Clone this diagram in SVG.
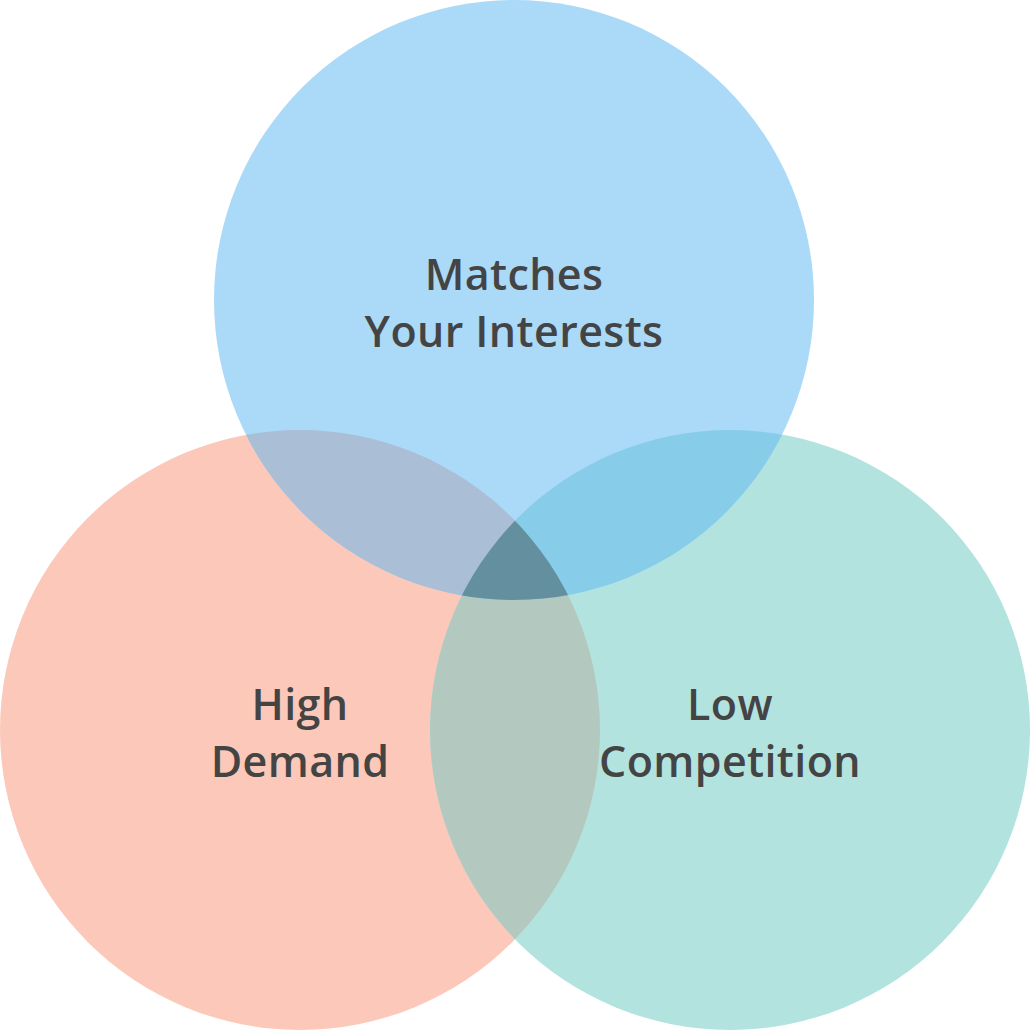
<svg xmlns="http://www.w3.org/2000/svg" width="1030" height="1030" viewBox="0 0 1030 1030">
<style>
.lbl{font-family:"Open Sans","Liberation Sans",sans-serif;font-weight:600;font-size:43px;letter-spacing:0.4px;fill:#444444;text-anchor:middle}
</style>
<defs>
<clipPath id="cB"><circle cx="514" cy="300" r="300"/></clipPath>
<clipPath id="cR"><circle cx="300" cy="730" r="300"/></clipPath>
<clipPath id="cT"><circle cx="730" cy="730" r="300"/></clipPath>
</defs>
<rect width="1030" height="1030" fill="#ffffff"/>
<g id="high-demand"><circle cx="300" cy="730" r="300" fill="#FCC8BA"/></g>
<g id="low-competition"><circle cx="730" cy="730" r="300" fill="#B3E3DF"/></g>
<g id="matches-interests"><circle cx="514" cy="300" r="300" fill="#ABDAF8"/></g>
<g id="overlaps">
<g clip-path="url(#cR)"><circle cx="730" cy="730" r="300" fill="#B3C9C0"/></g>
<g clip-path="url(#cB)"><circle cx="300" cy="730" r="300" fill="#AABED5"/></g>
<g clip-path="url(#cB)"><circle cx="730" cy="730" r="300" fill="#87CDE9"/></g>
<g clip-path="url(#cB)"><g clip-path="url(#cR)"><circle cx="730" cy="730" r="300" fill="#648F9F"/></g></g>
</g>
<g id="labels">
<text class="lbl" x="514" y="290">Matches</text>
<text class="lbl" x="514" y="347">Your Interests</text>
<text class="lbl" x="300" y="720">High</text>
<text class="lbl" x="300" y="777">Demand</text>
<text class="lbl" x="730" y="720">Low</text>
<text class="lbl" x="730" y="777">Competition</text>
</g>
</svg>
